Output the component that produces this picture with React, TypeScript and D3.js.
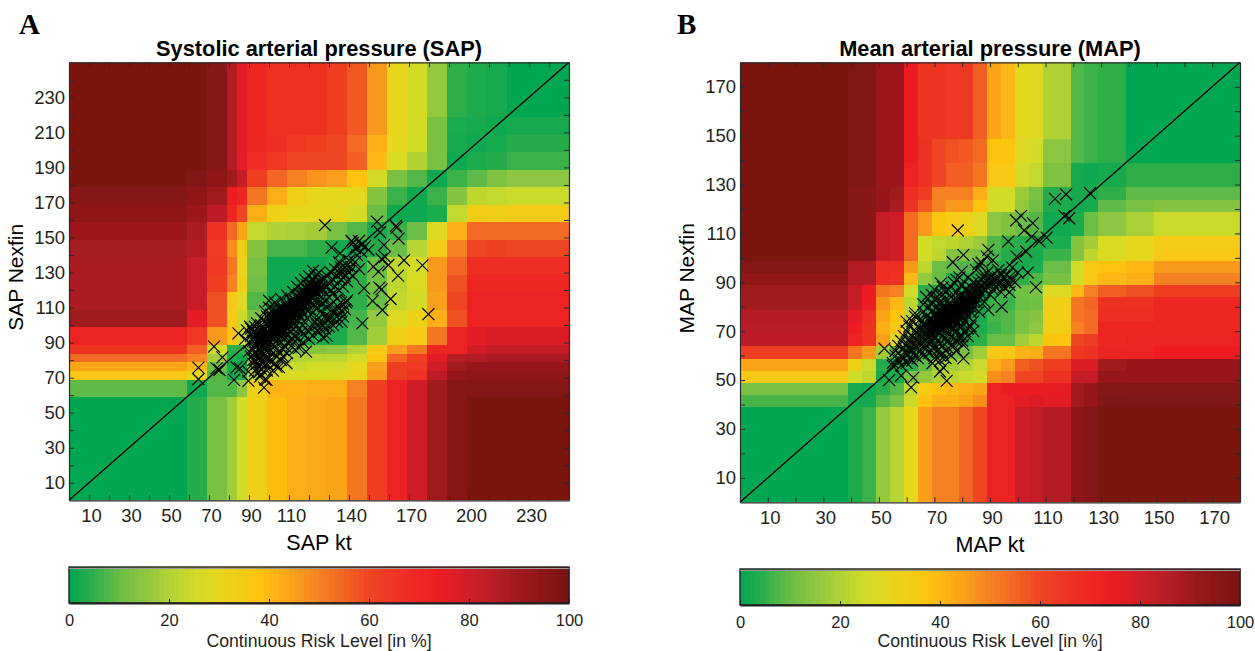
import * as d3 from "d3";
import React, { useRef, useEffect } from "react";

const FONT = '"Liberation Sans", Arial, sans-serif';

// colour bar (risk % -> colour)
const riskStops = [0, 5, 10, 15, 20, 25, 30, 38, 45, 50, 55, 60, 66, 74, 80, 85, 90, 95, 100];
const riskColors = ["#00a651", "#2fae4a", "#6abd45", "#8dc63f", "#b0d235", "#d0dc27", "#e6d61c", "#ffc20e", "#fa9f1b", "#f68122", "#f26522", "#ef4423", "#ee3224", "#ed1c24", "#cf1f27", "#b81e26", "#a01a1e", "#8a1615", "#7a1210"];

const sapEdges = [0, 59, 69, 79, 84, 89, 99, 109, 119, 129, 139, 149, 159, 169, 179, 189, 199, 209, 219, 250];
const sapRowEdges = [0, 59, 69, 74, 79, 84, 89, 99, 109, 119, 129, 139, 149, 159, 169, 179, 189, 199, 209, 219, 250];
const sapXLabels = [10, 30, 50, 70, 90, 110, 140, 170, 200, 230];
const sapYLabels = [10, 30, 50, 70, 90, 110, 130, 150, 170, 190, 210, 230];

// rows bottom to top
const sapRisk = [
  [0, 4, 12, 18, 25, 33, 39, 42, 43, 44, 52, 62, 72, 80, 90, 96, 100, 100, 100],
  [9, 1, 8, 8, 15, 32, 41, 41, 42, 42, 50, 62, 72, 80, 90, 96, 97, 97, 97],
  [36, 30, 8, 1, 3, 23, 28, 27, 27, 28, 31, 46, 62, 66, 84, 92, 94, 94, 94],
  [44, 40, 10, 2, 1, 20, 25, 24, 25, 26, 30, 45, 62, 64, 80, 90, 92, 92, 92],
  [54, 50, 18, 3, 1, 16, 18, 20, 21, 22, 26, 37, 55, 62, 76, 85, 86, 88, 88],
  [66, 56, 26, 5, 5, 10, 10, 12, 14, 15, 20, 35, 45, 52, 70, 72, 80, 82, 82],
  [72, 64, 46, 38, 24, 10, 6, 3, 3, 3, 8, 18, 33, 36, 52, 71, 76, 78, 78],
  [90, 76, 58, 35, 24, 13, 8, 3, 3, 3, 7, 16, 28, 32, 42, 58, 71, 71, 71],
  [88, 82, 58, 36, 28, 8, 1, 1, 1, 3, 5, 10, 23, 26, 45, 60, 71, 71, 71],
  [88, 82, 62, 50, 32, 11, 1, 1, 1, 3, 5, 11, 22, 27, 46, 58, 70, 70, 70],
  [88, 82, 64, 52, 31, 12, 1, 1, 1, 3, 5, 10, 22, 26, 46, 55, 68, 68, 68],
  [89, 86, 63, 48, 33, 14, 7, 7, 5, 2, 1, 4, 10, 21, 33, 50, 60, 61, 60],
  [91, 88, 66, 54, 44, 23, 20, 19, 18, 12, 8, 2, 6, 10, 28, 42, 54, 54, 54],
  [94, 91, 84, 70, 60, 42, 32, 30, 30, 29, 26, 10, 1, 1, 3, 23, 34, 33, 34],
  [96, 94, 90, 74, 70, 52, 42, 33, 30, 30, 29, 14, 6, 1, 6, 14, 22, 23, 24],
  [100, 98, 94, 90, 82, 62, 55, 50, 47, 45, 38, 26, 12, 8, 1, 6, 9, 13, 15],
  [100, 100, 96, 86, 75, 68, 64, 60, 60, 60, 56, 40, 27, 20, 12, 1, 3, 4, 6],
  [100, 100, 96, 86, 75, 70, 68, 64, 62, 60, 54, 42, 30, 25, 12, 2, 1, 2, 4],
  [100, 100, 96, 86, 75, 70, 66, 66, 66, 62, 57, 46, 30, 26, 12, 3, 2, 1, 2],
  [100, 100, 96, 86, 75, 70, 66, 66, 66, 62, 57, 46, 30, 26, 16, 5, 3, 2, 0],
];

const sapPoints = [
  [128, 157], [154, 159], [155.5, 153], [163.5, 156.6], [163.8, 155.6], [164.8, 149.4], [157.5, 145.7], [131.3, 144.2], [141.3, 148], [146.3, 145.7], [149.7, 142.9], [135.5, 141], [156.3, 137.7], [158, 139], [152.2, 133.4], [154.7, 130.5], [159.7, 134.3], [167.5, 137], [176.7, 134.1], [164.5, 128.2], [147.5, 121], [156.3, 120.4], [155.2, 121.4], [151.8, 113.8], [160.8, 114.9], [156.7, 108.6], [179.7, 106.2], [146.7, 101], [138.5, 113], [136.3, 102], [128.8, 94], [118.5, 84.9],
  [72.5, 87.7], [76.7, 81.6], [64.7, 75.7], [64.7, 69.1], [75.2, 74.4], [73.8, 75.3], [83.8, 75.9], [85.5, 75.3], [82.5, 68.7], [89.7, 68.1], [97.5, 64.3], [98.8, 68.7], [95.5, 70.6], [89.7, 73.4], [103.8, 76.3], [108.8, 78.2], [84.7, 95.3], [90.5, 99.1],
  [88, 92], [89, 97], [90, 85], [90, 90], [91, 82], [91, 94], [91, 98], [92, 78], [92, 86], [92, 91], [92, 96], [93, 74], [93, 80], [93, 88], [93, 93], [93, 99], [94, 84], [94, 90], [94, 95], [94, 101], [95, 76], [95, 81], [95, 87], [95, 92], [95, 97], [96, 72], [96, 79], [96, 85], [96, 90], [96, 94], [96, 100], [96, 104], [97, 83], [97, 88], [97, 92], [97, 96], [97, 103], [98, 69], [98, 77], [98, 86], [98, 90], [98, 94], [98, 98], [98, 108], [99, 74], [99, 81], [99, 88], [99, 92], [99, 96], [99, 101], [99, 105],
  [100, 85], [100, 91], [100, 96], [100, 100], [100, 104], [100, 110], [100, 114], [101, 88], [101, 94], [101, 98], [101, 102], [101, 106], [102, 84], [102, 92], [102, 96], [102, 100], [102, 104], [102, 109], [103, 88], [103, 94], [103, 98], [103, 102], [103, 106], [103, 113], [104, 91], [104, 96], [104, 100], [104, 104], [104, 108], [105, 85], [105, 94], [105, 98], [105, 102], [105, 106], [105, 110], [106, 90], [106, 96], [106, 100], [106, 104], [106, 108], [106, 115], [107, 93], [107, 98], [107, 102], [107, 106], [107, 110], [108, 88], [108, 96], [108, 100], [108, 104], [108, 108], [108, 112], [109, 94], [109, 98], [109, 102], [109, 106], [109, 110], [109, 117], [110, 91], [110, 100], [110, 104], [110, 108], [110, 112], [111, 96], [111, 102], [111, 106], [111, 110], [111, 114], [112, 98], [112, 104], [112, 108], [112, 112], [112, 119], [113, 94], [113, 101], [113, 106], [113, 110], [113, 114], [114, 103], [114, 108], [114, 112], [114, 116], [114, 122], [115, 98], [115, 106], [115, 110], [115, 114], [115, 118], [116, 104], [116, 109], [116, 113], [116, 117], [116, 124], [117, 100], [117, 107], [117, 112], [117, 116], [117, 120], [118, 110], [118, 114], [118, 118], [118, 126], [119, 104], [119, 112], [119, 116], [119, 120], [119, 123], [120, 109], [120, 114], [120, 118], [120, 122], [120, 128], [121, 106], [121, 116], [121, 120], [121, 124], [122, 111], [122, 118], [122, 122], [122, 126], [122, 131], [123, 114], [123, 120], [123, 124], [123, 128], [124, 97], [124, 110], [124, 118], [124, 122], [125, 104], [125, 113], [125, 120], [125, 125], [125, 130], [126, 108], [126, 116], [126, 122], [127, 100], [127, 112], [127, 120], [127, 126], [128, 105], [128, 114], [128, 122],
  [129, 110], [129, 122], [129, 128], [130, 104], [130, 116], [130, 124], [131, 112], [131, 120], [131, 130], [132, 108], [132, 118], [132, 126], [133, 122], [133, 132], [134, 102], [134, 115], [134, 128], [135, 120], [135, 130], [135, 136], [136, 113], [136, 126], [136, 133], [137, 112], [137, 122], [137, 130], [138, 128], [138, 133], [139, 114], [139, 125], [139, 134], [140, 130], [140, 137], [141, 133], [142, 128], [142, 147], [143, 136], [143, 144], [144, 140], [145, 148], [145, 132], [146, 142], [148, 145],
  [96, 92], [98, 93], [99, 95], [101, 97], [102, 99], [103, 100], [104, 101], [105, 103], [106, 103], [107, 105], [108, 105], [109, 107], [110, 109], [111, 109], [112, 110], [113, 112], [114, 113], [115, 115], [116, 115], [117, 117], [118, 116], [119, 118], [120, 120], [121, 121], [122, 120],
  // wider scatter under the band
  [107, 86], [109, 84], [111, 88], [112, 92], [113, 86], [114, 92], [115, 87], [116, 96], [117, 90], [118, 94], [119, 97], [120, 92], [121, 98], [122, 94], [123, 102], [124, 100], [125, 96], [126, 101], [127, 93], [128, 98], [129, 103], [130, 99], [131, 104], [132, 100], [133, 108], [134, 105], [135, 110], [136, 108], [137, 105], [138, 109],
  [92, 80], [93, 84], [94, 78], [95, 73], [96, 75], [97, 79], [98, 81], [99, 78], [100, 81], [101, 79], [102, 74], [103, 78], [104, 82], [105, 76], [106, 80], [107, 82],
];

const mapEdges = [0, 39, 44, 49, 54, 59, 64, 69, 74, 79, 84, 89, 94, 99, 104, 109, 119, 124, 129, 139, 149, 180];
const mapLabels = [10, 30, 50, 70, 90, 110, 130, 150, 170];

// rows bottom to top
const mapRisk = [
  [0, 3, 6, 16, 21, 30, 45, 50, 50, 55, 60, 72, 72, 80, 82, 86, 94, 96, 100, 100, 100],
  [7, 2, 2, 8, 12, 24, 38, 42, 42, 44, 48, 72, 72, 76, 78, 76, 90, 92, 98, 98, 98],
  [12, 2, 1, 4, 8, 22, 34, 38, 40, 42, 44, 72, 74, 74, 74, 75, 90, 92, 96, 97, 97],
  [36, 25, 22, 2, 3, 12, 16, 20, 22, 24, 26, 48, 50, 60, 60, 66, 82, 82, 92, 92, 92],
  [44, 33, 24, 4, 2, 4, 9, 18, 18, 20, 24, 42, 46, 56, 58, 62, 78, 78, 90, 92, 92],
  [62, 52, 46, 18, 8, 3, 5, 8, 10, 12, 18, 35, 36, 41, 42, 52, 64, 66, 72, 72, 74],
  [84, 72, 66, 45, 28, 15, 5, 3, 2, 3, 5, 10, 10, 18, 22, 37, 60, 62, 70, 71, 72],
  [85, 74, 66, 42, 36, 20, 3, 1, 1, 1, 3, 6, 8, 12, 15, 33, 50, 54, 70, 70, 70],
  [86, 76, 68, 44, 38, 22, 5, 1, 1, 1, 2, 7, 8, 12, 14, 33, 52, 54, 68, 68, 70],
  [90, 82, 74, 47, 40, 22, 5, 1, 1, 1, 1, 6, 6, 10, 11, 33, 52, 55, 66, 66, 70],
  [90, 82, 74, 52, 50, 26, 5, 2, 1, 1, 1, 5, 7, 11, 12, 28, 40, 50, 56, 58, 62],
  [93, 86, 86, 68, 66, 40, 16, 10, 4, 4, 3, 3, 3, 5, 8, 12, 26, 36, 40, 42, 50],
  [97, 86, 86, 68, 68, 46, 22, 10, 9, 8, 6, 4, 3, 2, 3, 10, 25, 36, 38, 40, 46],
  [100, 96, 96, 82, 80, 54, 25, 22, 14, 14, 12, 7, 4, 3, 2, 6, 14, 22, 27, 30, 36],
  [100, 96, 96, 82, 80, 54, 25, 23, 22, 20, 17, 8, 5, 4, 3, 3, 14, 18, 27, 30, 34],
  [100, 96, 95, 82, 80, 54, 46, 37, 35, 32, 28, 15, 13, 10, 8, 1, 3, 10, 15, 19, 24],
  [100, 96, 95, 92, 88, 66, 57, 50, 46, 46, 38, 26, 25, 16, 11, 3, 1, 2, 9, 12, 14],
  [100, 96, 95, 92, 90, 68, 62, 50, 50, 50, 42, 26, 25, 17, 12, 4, 2, 2, 5, 9, 9],
  [100, 98, 98, 91, 91, 72, 66, 60, 56, 56, 52, 36, 36, 26, 23, 13, 2, 1, 2, 5, 5],
  [100, 98, 98, 91, 91, 74, 66, 60, 58, 57, 54, 38, 37, 28, 25, 15, 8, 6, 5, 0, 0],
  [100, 98, 98, 91, 91, 74, 65, 65, 64, 64, 56, 44, 40, 29, 28, 20, 8, 6, 5, 0, 0],
];

const mapPoints = [
  [78.4, 111.2], [126, 126.5], [117.4, 126], [113.4, 124.1], [116.8, 117.2], [118.5, 116.2], [101.2, 117.2], [99.4, 115.3], [105.4, 114.2], [102.3, 111.2], [105, 108.7], [110.4, 108.3], [107.8, 106.7], [96.6, 106.7], [89.4, 103.3], [80.4, 101.2], [103, 102.6], [99.6, 100.5], [76.6, 98.2], [88.8, 100.5], [85.8, 97.4], [103.6, 94], [106.5, 88], [94.2, 80], [89.4, 78.7], [80.4, 58.9], [80.4, 64.4], [74.4, 49.7], [73.2, 55.1], [72, 53.5], [69.3, 56.9], [61.6, 47], [62.4, 51], [58, 51.8], [53.7, 50], [55, 55.8], [52, 62.9], [60, 73.9], [63, 77.4], [72.3, 89.6], [69, 84.9], [79.8, 94.4],
  [55, 57], [56, 60], [56, 62], [57, 58], [57, 64], [58, 56], [58, 60], [58, 66], [59, 59], [59, 63], [59, 68], [60, 57], [60, 61], [60, 65], [60, 70], [61, 59], [61, 63], [61, 67], [61, 72], [62, 58], [62, 62], [62, 65], [62, 68], [62, 74], [63, 60], [63, 64], [63, 67], [63, 70], [63, 76], [64, 59], [64, 63], [64, 66], [64, 69], [64, 72], [65, 62], [65, 65], [65, 68], [65, 71], [65, 75], [66, 60], [66, 64], [66, 67], [66, 70], [66, 73], [66, 78], [67, 63], [67, 66], [67, 69], [67, 72], [67, 76], [68, 61], [68, 65], [68, 68], [68, 71], [68, 74], [68, 80], [69, 62], [69, 66], [69, 69], [69, 72], [69, 75], [69, 78], [70, 59], [70, 64], [70, 68], [70, 71], [70, 74], [70, 77], [70, 83], [71, 62], [71, 66], [71, 70], [71, 73], [71, 76], [71, 80], [72, 60], [72, 65], [72, 69], [72, 72], [72, 75], [72, 78], [72, 82], [73, 64], [73, 68], [73, 71], [73, 74], [73, 77], [73, 80], [73, 85], [74, 62], [74, 67], [74, 70], [74, 73], [74, 76], [74, 79], [74, 83], [75, 66], [75, 69], [75, 72], [75, 75], [75, 78], [75, 81], [75, 87], [76, 64], [76, 68], [76, 71], [76, 74], [76, 77], [76, 80], [76, 84], [77, 67], [77, 71], [77, 74], [77, 77], [77, 80], [77, 83], [77, 90], [78, 66], [78, 70], [78, 73], [78, 76], [78, 79], [78, 82], [78, 86], [79, 72], [79, 75], [79, 78], [79, 81], [79, 84], [79, 92], [80, 68], [80, 72], [80, 76], [80, 79], [80, 82], [80, 85], [80, 89], [81, 74], [81, 78], [81, 81], [81, 84], [81, 87], [82, 71], [82, 76], [82, 80], [82, 83], [82, 86], [82, 92], [83, 78], [83, 82], [83, 85], [83, 88], [84, 74], [84, 80], [84, 84], [84, 87], [84, 90], [85, 82], [85, 86], [85, 89], [85, 95], [86, 78], [86, 84], [86, 87], [86, 90], [87, 85], [87, 88], [87, 91], [87, 98], [88, 82], [88, 87], [88, 90], [88, 93], [89, 88], [89, 91], [89, 94], [90, 85], [90, 89], [90, 92], [91, 87], [91, 90], [91, 93], [91, 99], [92, 88], [92, 91], [93, 89], [93, 92], [93, 95], [94, 86], [94, 90], [94, 93], [95, 88], [95, 92], [96, 90], [96, 93], [97, 86], [97, 89], [97, 92], [98, 91], [98, 96], [99, 90], [100, 94],
  [68, 70], [69, 71], [70, 72], [70, 73], [71, 72], [71, 75], [72, 73], [72, 74], [72, 76], [73, 73], [73, 75], [73, 76], [73, 78], [74, 74], [74, 75], [74, 77], [74, 78], [75, 74], [75, 76], [75, 77], [75, 79], [76, 75], [76, 76], [76, 78], [76, 79], [77, 75], [77, 76], [77, 78], [77, 79], [78, 77], [78, 78], [78, 80], [79, 77], [79, 79], [79, 80], [79, 82], [80, 78], [80, 80], [80, 81], [81, 79], [81, 80], [81, 82], [82, 81], [82, 82], [83, 80], [83, 83], [83, 84], [84, 82], [84, 85], [85, 84], [85, 87],
  // wider scatter either side of the band
  [72, 58], [73, 61], [74, 59], [75, 63], [76, 60], [77, 64], [78, 62], [79, 68], [80, 66], [81, 70], [82, 68], [83, 72], [84, 70],
  [66, 81], [67, 84], [69, 81], [70, 87], [71, 84], [73, 88], [74, 86], [76, 88], [78, 91],
];

const colorbarTicks = [0, 20, 40, 60, 80, 100];

const riskColor = d3.scaleLinear<string>().domain(riskStops).range(riskColors).interpolate(d3.interpolateRgb);

function RiskPanel({ id, letter, letterX, title, xLabel, yLabel, max, xEdges, yEdges, risk, points, xLabels, yLabels, left, top, height, barTop, labelY, yLabelX }) {
  const ref = useRef(null);
  const width = 500;

  useEffect(() => {
    const root = d3.select(ref.current);
    root.selectAll("*").remove();

    const x = d3.scaleLinear().domain([0, max]).range([left, left + width]);
    const y = d3.scaleLinear().domain([0, max]).range([top + height, top]);

    root.append("clipPath").attr("id", id + "-clip").append("rect").attr("x", left).attr("y", top).attr("width", width).attr("height", height);
    root.append("filter").attr("id", id + "-soft").append("feGaussianBlur").attr("stdDeviation", 0.6);

    // risk grid, snapped to whole pixels so no seams show between equal cells
    const grid = root.append("g").attr("clip-path", `url(#${id}-clip)`).append("g").attr("filter", `url(#${id}-soft)`);
    risk.forEach((row, r) => {
      row.forEach((v, c) => {
        const x0 = Math.round(x(xEdges[c]));
        const x1 = Math.round(x(xEdges[c + 1]));
        const y0 = Math.round(y(yEdges[r + 1]));
        const y1 = Math.ceil(y(yEdges[r]));
        grid.append("rect")
          .attr("x", x0)
          .attr("y", y0)
          .attr("width", x1 - x0)
          .attr("height", y1 - y0)
          .attr("shape-rendering", "crispEdges")
          .attr("fill", riskColor(v));
      });
    });

    // measurements
    const cross = d3.symbol().type(d3.symbolTimes).size(95);
    root.append("g").selectAll("path").data(points).join("path")
      .attr("d", cross)
      .attr("transform", d => `translate(${x(d[0])},${y(d[1])})`)
      .attr("fill", "none").attr("stroke", "#000").attr("stroke-width", 1.15);

    // identity line
    root.append("line")
      .attr("x1", x(0)).attr("y1", y(0)).attr("x2", x(max)).attr("y2", y(max))
      .attr("stroke", "#000").attr("stroke-width", 1.3);

    // axes, ticks point inwards on every side
    const tickVals = d3.range(10, max, 10);
    const sideAxes = [
      { axis: d3.axisBottom(x).tickValues(tickVals).tickFormat(d => (xLabels.includes(d) ? d : "")), at: [0, top + height], pad: 9 },
      { axis: d3.axisLeft(y).tickValues(tickVals).tickFormat(d => (yLabels.includes(d) ? d : "")), at: [left, 0], pad: 4 },
      { axis: d3.axisTop(x).tickValues(tickVals).tickFormat(() => ""), at: [0, top], pad: 0 },
      { axis: d3.axisRight(y).tickValues(tickVals).tickFormat(() => ""), at: [left + width, 0], pad: 0 },
    ];
    sideAxes.forEach(({ axis, at, pad }, i) => {
      const g = root.append("g")
        .attr("transform", `translate(${at[0]},${at[1]})`)
        .call(axis.tickSizeInner(-5).tickSizeOuter(0).tickPadding(pad));
      g.selectAll("path").attr("stroke", "#2a2a2a").attr("stroke-width", 1.2);
      g.selectAll("line").attr("stroke", "#2a2a2a").attr("stroke-width", 1);
      g.selectAll("text").attr("font-family", FONT).attr("font-size", 18.5).attr("fill", "#231f20");
      if (i === 0) g.selectAll("text").attr("dx", 2);
    });

    // colour bar
    const barH = 36;
    const bar = d3.scaleLinear().domain([0, 100]).range([left, left + width]);
    const barG = root.append("g");
    barG.selectAll("rect").data(d3.range(0, 100, 1)).join("rect")
      .attr("x", d => bar(d))
      .attr("y", barTop)
      .attr("width", 5.5)
      .attr("height", barH)
      .attr("fill", d => riskColor(d + 0.5));
    barG.append("rect").attr("x", left).attr("y", barTop).attr("width", width).attr("height", barH)
      .attr("fill", "none").attr("stroke", "#231f20").attr("stroke-width", 1.4);
    barG.append("line").attr("x1", left).attr("x2", left + width).attr("y1", barTop + 1.5).attr("y2", barTop + 1.5)
      .attr("stroke", "#999").attr("stroke-width", 1.2);
    const barAxis = root.append("g")
      .attr("transform", `translate(0,${barTop + barH})`)
      .call(d3.axisBottom(bar).tickValues(colorbarTicks).tickSizeInner(-4).tickSizeOuter(0).tickPadding(11));
    barAxis.select("path").attr("stroke", "#231f20").attr("stroke-width", 2);
    barAxis.selectAll("line").attr("stroke", "#231f20");
    barAxis.selectAll("text").attr("font-family", FONT).attr("font-size", 16.5).attr("fill", "#231f20");

    // labels
    const addText = (txt, tx, ty, size, weight, anchor) =>
      root.append("text").text(txt).attr("x", tx).attr("y", ty)
        .attr("font-family", FONT).attr("font-size", size).attr("font-weight", weight)
        .attr("text-anchor", anchor).attr("fill", "#000");

    addText(title, left + width / 2, 56, 21.8, "bold", "middle");
    addText(xLabel, left + width / 2, top + height + 50, 21.5, "normal", "middle");
    addText("Continuous Risk Level [in %]", left + width / 2, labelY, 17.7, "normal", "middle").attr("fill", "#231f20");
    addText(yLabel, 0, 0, 21, "normal", "middle")
      .attr("transform", `translate(${yLabelX},${top + height / 2 - 4}) rotate(-90)`);
    addText(letter, letterX, 34, 29, "bold", "start").attr("font-family", '"Liberation Serif", serif');
  }, []);

  return <g ref={ref} />;
}

export default function App() {
  return (
    <svg width={1255} height={651} style={{ position: "absolute", left: 0, top: 0, background: "#fff" }}>
      <RiskPanel
        id="sap" letter="A" letterX={19} title="Systolic arterial pressure (SAP)" xLabel="SAP kt" yLabel="SAP Nexfin"
        max={250} xEdges={sapEdges} yEdges={sapRowEdges} risk={sapRisk} points={sapPoints}
        xLabels={sapXLabels} yLabels={sapYLabels} left={69} top={62.3} height={438} barTop={567} labelY={646.5} yLabelX={23}
      />
      <RiskPanel
        id="map" letter="B" letterX={677} title="Mean arterial pressure (MAP)" xLabel="MAP kt" yLabel="MAP Nexfin"
        max={180} xEdges={mapEdges} yEdges={mapEdges} risk={mapRisk} points={mapPoints}
        xLabels={mapLabels} yLabels={mapLabels} left={740} top={62.3} height={440} barTop={569} labelY={646.5} yLabelX={694}
      />
    </svg>
  );
}
